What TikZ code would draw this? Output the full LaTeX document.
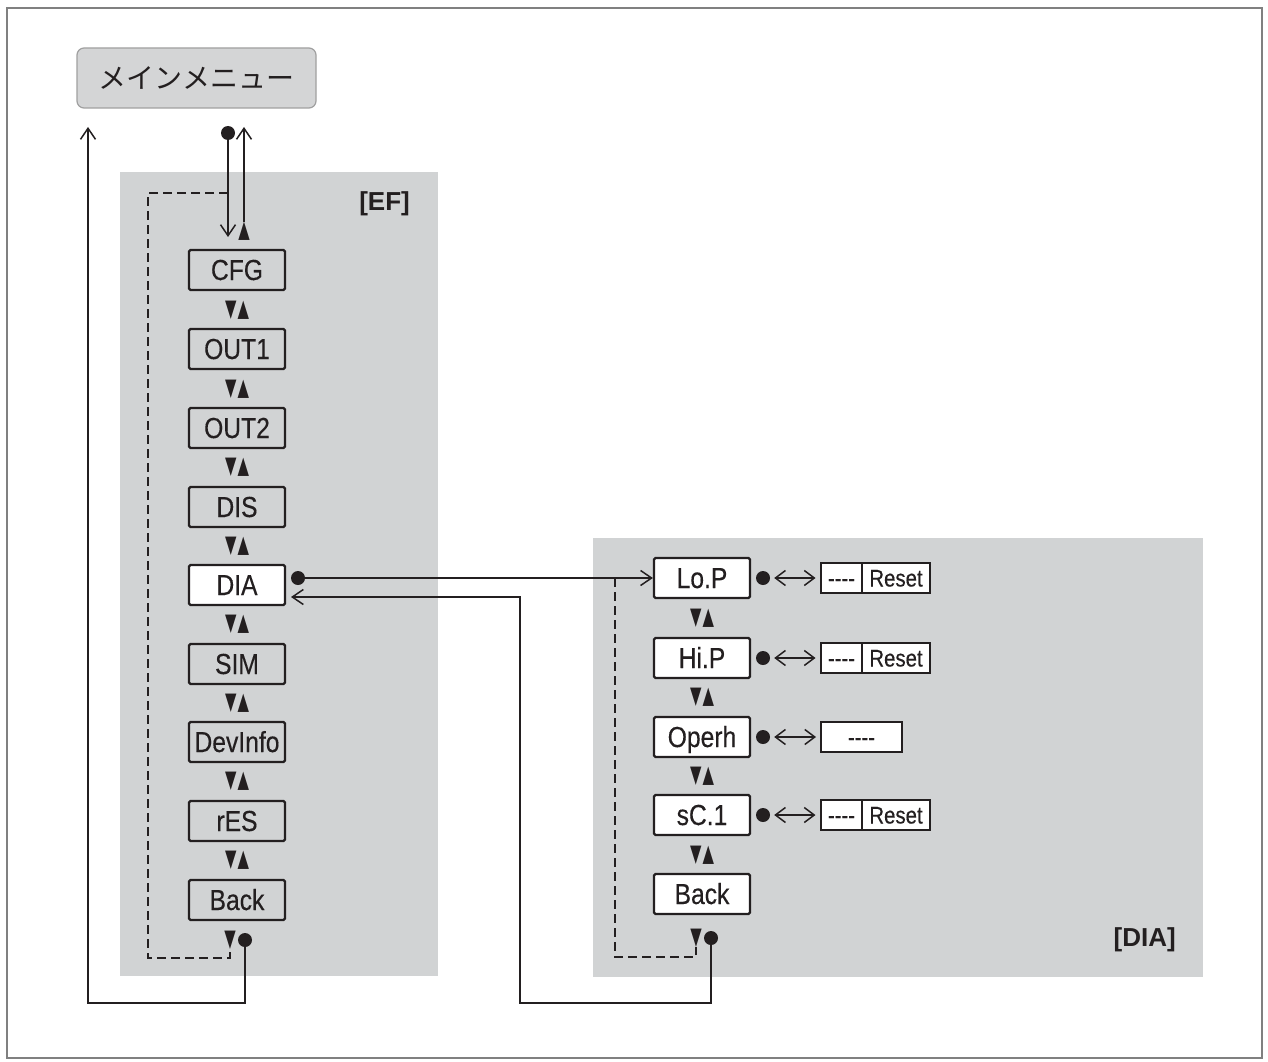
\documentclass[tikz,border=0pt]{standalone}
\usepackage{fontspec}
\setmainfont{Liberation Sans}
\newfontfamily\nar[FakeStretch=0.85,FakeBold=0.3]{Liberation Sans}
\newfontfamily\cjk{Noto Sans CJK JP}
\newfontfamily\sym[FakeStretch=0.62]{DejaVu Sans}
\usetikzlibrary{arrows.meta}
\definecolor{panel}{RGB}{209,211,212}
\definecolor{menufill}{RGB}{212,213,214}
\definecolor{menuborder}{RGB}{160,160,160}
\definecolor{bordergray}{RGB}{128,128,128}
\definecolor{ink}{RGB}{35,31,32}
\tikzset{
  menubox/.style={draw=menuborder, fill=menufill, rounded corners=7, line width=1.2,
    minimum width=239, minimum height=60, inner sep=0, text=ink,
    font=\cjk\fontsize{28}{28}\selectfont},
  efbox/.style={draw=ink, line width=2.2, fill=panel, minimum width=96, minimum height=40,
    inner sep=0, rounded corners=1.5, text height=20, text depth=0, text=ink,
    font=\nar\fontsize{29}{29}\selectfont},
  diabox/.style={efbox, fill=white},
  valbox/.style={draw=ink, line width=2, fill=white, minimum height=30, inner sep=0,
    text height=17, text depth=0, text=ink, font=\nar\fontsize{24}{24}\selectfont},
  tri/.style={inner sep=0, text=ink, font=\sym\fontsize{24}{24}\selectfont},
  blob/.style={circle, fill=ink, inner sep=0, minimum size=14},
  conn/.style={draw=ink, line width=1.5},
  arr/.style={-{Straight Barb[length=11pt,width=15pt,line width=1.5pt]}},
  dbl/.style={{Straight Barb[length=10pt,width=15pt,line width=1.5pt]}-{Straight Barb[length=10pt,width=15pt,line width=1.5pt]}},
  dsh/.style={draw=ink, line width=1.5, dash pattern=on 9pt off 5pt},
  tag/.style={inner sep=0, text=ink, font=\bfseries\fontsize{26}{26}\selectfont}
}
\begin{document}
\begin{tikzpicture}[x=1pt,y=-1pt]
\useasboundingbox (0,0) rectangle (1268,1062);
\fill[white] (0,0) rectangle (1268,1062);
\draw[draw=bordergray, line width=2.5] (7,8) rectangle (1262,1058);

% panels
\fill[panel] (120,172) rectangle (438,976);
\fill[panel] (593,538) rectangle (1203,977);

% main menu
\node[menubox] (menu) at (196.5,78) {メインメニュー};

% EF column
\node[efbox] (cfg) at (237,270) {CFG};
\node[tri] (t1) at (237,310) {▼\kern1pt▲};
\node[efbox] (out1) at (237,349) {OUT1};
\node[tri] (t2) at (237,389) {▼\kern1pt▲};
\node[efbox] (out2) at (237,428) {OUT2};
\node[tri] (t3) at (237,467) {▼\kern1pt▲};
\node[efbox] (dis) at (237,507) {DIS};
\node[tri] (t4) at (237,546) {▼\kern1pt▲};
\node[diabox] (dia) at (237,585) {DIA};
\node[tri] (t5) at (237,624) {▼\kern1pt▲};
\node[efbox] (sim) at (237,664) {SIM};
\node[tri] (t6) at (237,703) {▼\kern1pt▲};
\node[efbox] (devinfo) at (237,742) {DevInfo};
\node[tri] (t7) at (237,781) {▼\kern1pt▲};
\node[efbox] (res) at (237,821) {rES};
\node[tri] (t8) at (237,860) {▼\kern1pt▲};
\node[efbox] (efback) at (237,900) {Back};
\node[tri] (efbtri) at (230,940) {▼};
\node[blob] (efbdot) at (245,940) {};

\node[tri] (uptri) at (244,231) {▲};
\node[blob] (topdot) at (228,133) {};
\node[tag, anchor=east] (eftag) at (410,204) {[EF]};

% DIA column
\node[diabox] (lop) at (702,578) {Lo.P};
\node[tri] (d1) at (702,618) {▼\kern1pt▲};
\node[diabox] (hip) at (702,658) {Hi.P};
\node[tri] (d2) at (702,697) {▼\kern1pt▲};
\node[diabox] (operh) at (702,737) {Operh};
\node[tri] (d3) at (702,776) {▼\kern1pt▲};
\node[diabox] (sc1) at (702,815) {sC.1};
\node[tri] (d4) at (702,855) {▼\kern1pt▲};
\node[diabox] (diaback) at (702,894) {Back};
\node[tri] (diabtri) at (696,938) {▼};
\node[blob] (diabdot) at (711,938) {};
\node[tag, anchor=east] (diatag) at (1176,940) {[DIA]};

% value boxes
\node[blob] (lopdot) at (763,578) {};
\node[valbox, minimum width=42] (lopv1) at (841.5,578) {----};
\node[valbox, minimum width=68] (lopv2) at (896,578) {Reset};
\node[blob] (hipdot) at (763,658) {};
\node[valbox, minimum width=42] (hipv1) at (841.5,658) {----};
\node[valbox, minimum width=68] (hipv2) at (896,658) {Reset};
\node[blob] (operhdot) at (763,737) {};
\node[valbox, minimum width=81] (operhv) at (861.5,737) {----};
\node[blob] (sc1dot) at (763,815) {};
\node[valbox, minimum width=42] (sc1v1) at (841.5,815) {----};
\node[valbox, minimum width=68] (sc1v2) at (896,815) {Reset};

\draw[conn, dbl, shorten <=4pt, shorten >=4pt] (lopdot.east) -- (lopv1.west);
\draw[conn, dbl, shorten <=4pt, shorten >=4pt] (hipdot.east) -- (hipv1.west);
\draw[conn, dbl, shorten <=4pt, shorten >=4pt] (operhdot.east) -- (operhv.west);
\draw[conn, dbl, shorten <=4pt, shorten >=4pt] (sc1dot.east) -- (sc1v1.west);

% coordinates for free ends
\coordinate (cfgin) at (228,237);
\coordinate (menuup) at (244,127);
\coordinate (leftup) at (88,127);
\coordinate (diaret) at (291,597);
\coordinate (efdashtop) at (228,193);
\coordinate (diadashtop) at (615,578);

% connectors
\draw[conn, arr] (topdot.center) -- (cfgin);
\draw[conn, arr] (uptri.north) -- (menuup);
\draw[conn, arr] (efbdot.center) -- (245,1003) -- (88,1003) -- (leftup);
\node[blob] (diadot) at (298,578) {};
\draw[conn, arr] (diadot.center) -- (lop.west);
\draw[conn, arr] (diabdot.center) -- (711,1003) -- (520,1003) -- (520,597) -- (diaret);

% dashed loops
\draw[dsh] (efdashtop) -- (148,193) -- (148,958) -- (230,958) -- (efbtri.south);
\draw[dsh] (diadashtop) -- (615,957) -- (696,957) -- (diabtri.south);
\end{tikzpicture}
\end{document}
